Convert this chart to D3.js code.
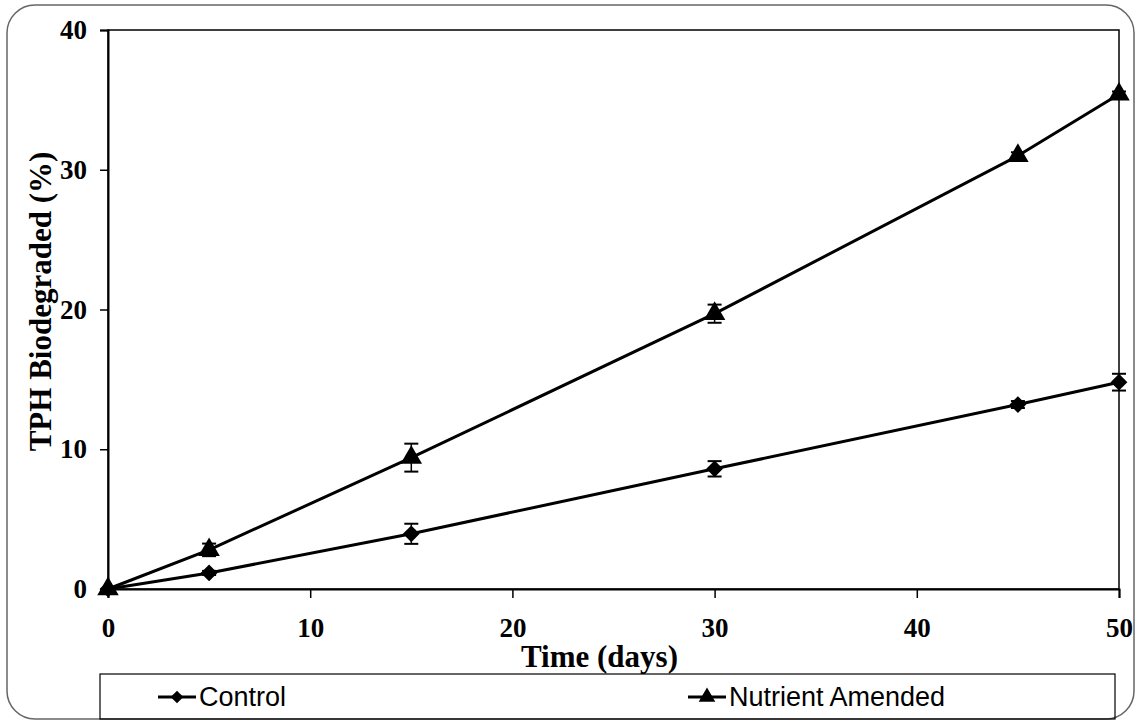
<!DOCTYPE html>
<html>
<head>
<meta charset="utf-8">
<script src="https://cdn.jsdelivr.net/npm/d3@7"></script>
<style>
  html, body { margin: 0; padding: 0; background: #fff; }
  svg { display: block; }
</style>
</head>
<body>
<svg id="chart" width="1140" height="725"></svg>
<script>
// ---- data ----
const days = [0, 5, 15, 30, 45, 50];
const controlValues = [0, 1.15, 3.95, 8.6, 13.2, 14.8];
const controlErrors = [0, 0.15, 0.72, 0.55, 0.25, 0.6];
const nutrientValues = [0, 2.8, 9.4, 19.7, 31.0, 35.4];
const nutrientErrors = [0, 0.45, 1.0, 0.65, 0.25, 0.2];
const xTicks = [0, 10, 20, 30, 40, 50];
const yTicks = [0, 10, 20, 30, 40];
const seriesNames = ["Control", "Nutrient Amended"];

const svg = d3.select("#chart");
const margin = { left: 108, right: 1119, top: 30, bottom: 589 };

const x = d3.scaleLinear().domain([0, 50]).range([margin.left, margin.right]);
const y = d3.scaleLinear().domain([0, 40]).range([margin.bottom, margin.top]);

// outer rounded frame
svg.append("rect")
  .attr("x", 7).attr("y", 5).attr("width", 1127).attr("height", 714)
  .attr("rx", 28).attr("ry", 28)
  .attr("fill", "none").attr("stroke", "#666").attr("stroke-width", 1.5);

// plot frame
svg.append("rect")
  .attr("x", margin.left).attr("y", margin.top)
  .attr("width", margin.right - margin.left).attr("height", margin.bottom - margin.top)
  .attr("fill", "none").attr("stroke", "#000").attr("stroke-width", 1.5);

// axes
const serif = "'Liberation Serif', 'Times New Roman', serif";
const xAxis = svg.append("g")
  .attr("transform", `translate(0,${margin.bottom})`)
  .call(d3.axisBottom(x).tickValues(xTicks).tickSize(9).tickPadding(20).tickFormat(d3.format("d")));
const yAxis = svg.append("g")
  .attr("transform", `translate(${margin.left},0)`)
  .call(d3.axisLeft(y).tickValues(yTicks).tickSize(8).tickPadding(13).tickFormat(d3.format("d")));
[xAxis, yAxis].forEach(g => {
  g.attr("font-size", null).attr("font-family", null);
  g.select(".domain").attr("stroke", "#000").attr("stroke-width", 2);
  g.selectAll(".tick line").attr("stroke", "#000").attr("stroke-width", 1.5);
  g.selectAll(".tick text").attr("fill", "#000")
    .style("font-family", serif).style("font-weight", "bold").style("font-size", "27px");
});

// axis titles
svg.append("text")
  .attr("x", (margin.left + margin.right) / 2 - 14).attr("y", 667)
  .attr("text-anchor", "middle")
  .style("font-family", serif).style("font-weight", "bold").style("font-size", "31px")
  .text("Time (days)");
svg.append("text")
  .attr("transform", `translate(51,${(margin.top + margin.bottom) / 2 - 8}) rotate(-90)`)
  .attr("text-anchor", "middle")
  .style("font-family", serif).style("font-weight", "bold").style("font-size", "31px")
  .text("TPH Biodegraded (%)");

const line = d3.line().x(d => x(d[0])).y(d => y(d[1]));
const diamond = d3.symbol().type(d3.symbolSquare).size(140);
const triangle = d3.symbol().type(d3.symbolTriangle).size(200);
const symRot = { diamond: 45, triangle: 0 };

function drawSeries(vals, errs, sym, rot) {
  const pts = days.map((d, i) => [d, vals[i], errs[i]]);
  svg.append("path").datum(pts).attr("d", line)
    .attr("fill", "none").attr("stroke", "#000").attr("stroke-width", 3);
  const eb = svg.append("g");
  pts.filter(p => p[2] > 0).forEach(p => {
    const cx = x(p[0]);
    const y1 = y(p[1] + p[2]), y0 = y(p[1] - p[2]);
    eb.append("line").attr("x1", cx).attr("x2", cx).attr("y1", y1).attr("y2", y0)
      .attr("stroke", "#000").attr("stroke-width", 1.5);
    [y1, y0].forEach(yy => eb.append("line")
      .attr("x1", cx - 7).attr("x2", cx + 7).attr("y1", yy).attr("y2", yy)
      .attr("stroke", "#000").attr("stroke-width", 2));
  });
  svg.append("g").selectAll("path").data(pts).join("path")
    .attr("d", sym)
    .attr("transform", p => `translate(${x(p[0])},${y(p[1])}) rotate(${rot})`)
    .attr("fill", "#000");
}
drawSeries(controlValues, controlErrors, diamond, symRot.diamond);
drawSeries(nutrientValues, nutrientErrors, triangle, symRot.triangle);

// legend
svg.append("rect")
  .attr("x", 100).attr("y", 674).attr("width", 1015).attr("height", 45)
  .attr("fill", "none").attr("stroke", "#000").attr("stroke-width", 1.2);
const legendItems = [
  { name: seriesNames[0], sym: d3.symbol().type(d3.symbolSquare).size(80), rot: 45, x0: 158 },
  { name: seriesNames[1], sym: d3.symbol().type(d3.symbolTriangle).size(120), rot: 0, x0: 688 }
];
legendItems.forEach(it => {
  const g = svg.append("g");
  g.append("line").attr("x1", it.x0).attr("x2", it.x0 + 38).attr("y1", 697).attr("y2", 697)
    .attr("stroke", "#000").attr("stroke-width", 3);
  g.append("path").attr("d", it.sym).attr("transform", `translate(${it.x0 + 19},697) rotate(${it.rot})`).attr("fill", "#000");
  g.append("text").attr("x", it.x0 + 41).attr("y", 706)
    .style("font-family", "'Liberation Sans', Arial, sans-serif").style("font-size", "27px")
    .attr("fill", "#000").text(it.name);
});
</script>
</body>
</html>
